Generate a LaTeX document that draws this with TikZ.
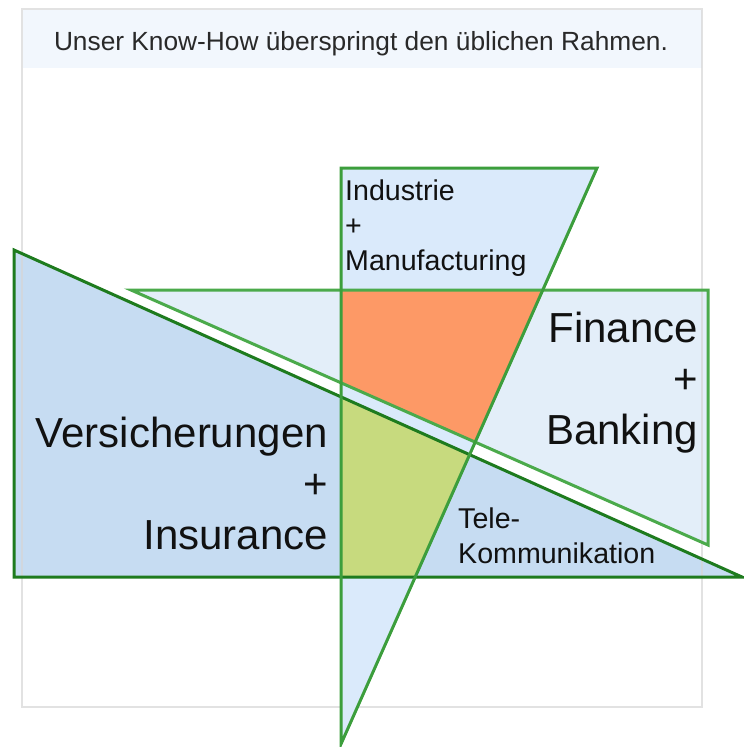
\documentclass[tikz,border=0pt]{standalone}
\usepackage{fontspec}
\setmainfont{Liberation Sans}
\usetikzlibrary{intersections,calc}
\definecolor{kopf}{HTML}{F2F7FD}
\definecolor{rahmen}{HTML}{D6D6D6}
\definecolor{indfill}{HTML}{DAEAFB}
\definecolor{finfill}{HTML}{E3EEF9}
\definecolor{versfill}{HTML}{C6DCF2}
\definecolor{orangefill}{HTML}{FD9966}
\definecolor{gruenfill}{HTML}{C7DA7E}
\definecolor{indline}{HTML}{3C9E3C}
\definecolor{finline}{HTML}{4BAA4B}
\definecolor{versline}{HTML}{1E7B1E}
\definecolor{schrift}{HTML}{111111}

\begin{document}
\begin{tikzpicture}[x=1pt,y=-1pt,
    kante/.style={line width=3pt,line join=miter},
    gross/.style={font=\fontsize{42}{51}\selectfont,text=schrift,inner sep=0pt,align=right},
    klein/.style={font=\fontsize{28.6}{35}\selectfont,text=schrift,inner sep=0pt,align=left}]
	\useasboundingbox (0,0) rectangle (744,747);
	%KOPF
	\fill[kopf] (23,10) rectangle (702,68);
	\node[anchor=base,font=\fontsize{26.3}{30}\selectfont,text=schrift!90] (titel) at (361,50) {Unser Know-How überspringt den üblichen Rahmen.};

	%ECKEN
	\coordinate (V1) at (14,250); \coordinate (V2) at (14,577); \coordinate (V3) at (742,577);
	\coordinate (F1) at (131,290); \coordinate (F2) at (708,290); \coordinate (F3) at (708,545);
	\coordinate (I1) at (341,168); \coordinate (I2) at (597,168); \coordinate (I3) at (341,744);

	%FLAECHEN
	\fill[versfill] (V1) -- (V2) -- (V3) -- cycle;
	\fill[finfill] (F1) -- (F2) -- (F3) -- cycle;
	\draw[rahmen,line width=2pt,opacity=0.7] (22,9) rectangle (702,707);
	\fill[indfill] (I1) -- (I2) -- (I3) -- cycle;

	%SCHNITTE
	\path[name path=i_l] (I1) -- (I3);
	\path[name path=i_r] (I2) -- (I3);
	\path[name path=f_o] (F1) -- (F2);
	\path[name path=f_d] (F1) -- (F3);
	\path[name path=v_d] (V1) -- (V3);
	\path[name path=v_u] (V2) -- (V3);
	\path [name intersections={of=i_l and f_o,by=B1}];
	\path [name intersections={of=i_r and f_o,by=A1}];
	\path [name intersections={of=i_r and f_d,by=A2}];
	\path [name intersections={of=i_l and f_d,by=B2}];
	\path [name intersections={of=i_l and v_d,by=B3}];
	\path [name intersections={of=i_r and v_d,by=A3}];
	\path [name intersections={of=i_r and v_u,by=A4}];
	\path [name intersections={of=i_l and v_u,by=B4}];
	\fill[orangefill] (B1) -- (A1) -- (A2) -- (B2) -- cycle;
	\fill[gruenfill] (B3) -- (A3) -- (A4) -- (B4) -- cycle;

	%KANTEN
	\draw[kante,versline] (V1) -- (V2) -- (V3) -- cycle;
	\draw[kante,finline] (F1) -- (F2) -- (F3) -- cycle;
	\draw[kante,indline] (I1) -- (I2) -- (I3) -- cycle;

	%TEXTE
	\node[gross,anchor=north east] (versicherung) at (328,417) {Versicherungen\\+\\Insurance};
	\node[gross,anchor=north east] (finanz) at (698,312) {Finance\\+\\Banking};
	\node[klein,anchor=north west] (industrie) at (345,180) {Industrie\\+\\Manufacturing};
	\node[klein,anchor=north west] (telekom) at (458,508) {Tele-\\Kommunikation};
\end{tikzpicture}
\end{document}
